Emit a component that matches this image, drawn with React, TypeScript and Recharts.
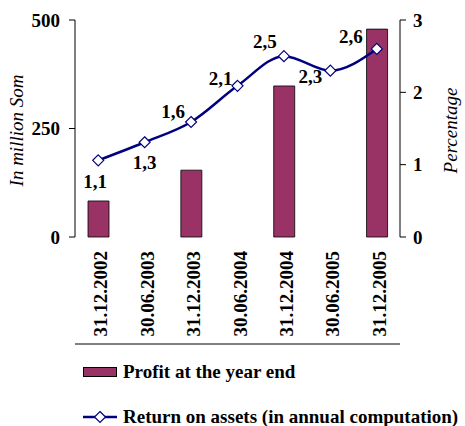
import React from 'react';
import { ComposedChart, Bar, Line, XAxis, YAxis, Legend, LabelList } from 'recharts';

const categories = ['31.12.2002', '30.06.2003', '31.12.2003', '30.06.2004', '31.12.2004', '30.06.2005', '31.12.2005'];
const profit: (number | null)[] = [83, null, 154, null, 348, null, 479];
const returnOnAssets = [1.06, 1.31, 1.59, 2.09, 2.5, 2.3, 2.6];
const leftTicks = [0, 250, 500];
const rightTicks = [0, 1, 2, 3];
const boundaryTicks = [0, 1, 2, 3, 4, 5, 6, 7];

const PROFIT_NAME = 'Profit at the year end';
const ROA_NAME = 'Return on assets (in annual computation)';

// label placement offsets (style only)
const LABEL_OFFSETS: [number, number][] = [
  [-3, 21], [0, 20], [-18, -10], [-17, -7.5], [-19, -14.5], [-20, 6], [-26, -12.5],
];

const data = categories.map((c, i) => ({ date: c, profit: profit[i], roa: returnOnAssets[i] }));

const FONT = '"Liberation Serif", "Times New Roman", serif';
const FS = 19;
const BAR_COLOR = '#993366';
const LINE_COLOR = '#000080';

const Diamond = (props: any) => {
  const { cx, cy, index } = props;
  if (cx == null || cy == null) return <g key={`d${index}`} />;
  const r = 5.5;
  return (
    <path
      key={`d${index}`}
      d={`M${cx},${cy - r} L${cx + r},${cy} L${cx},${cy + r} L${cx - r},${cy} Z`}
      fill="#fff"
      stroke={LINE_COLOR}
      strokeWidth={1.2}
    />
  );
};

const XTick = (props: any) => {
  const { x, y, payload } = props;
  const tx = x + 9;
  const ty = y + 14;
  return (
    <text
      x={tx}
      y={ty}
      transform={`rotate(-90, ${tx}, ${ty})`}
      textAnchor="end"
      fontFamily={FONT}
      fontWeight="bold"
      fontSize={FS}
      fill="#000"
    >
      {payload.value}
    </text>
  );
};

const RoaLabel = (props: any) => {
  const { x, y, value, index } = props;
  const off = LABEL_OFFSETS[index] || [0, -12];
  return (
    <text
      x={x + off[0]}
      y={y + off[1]}
      textAnchor="middle"
      dominantBaseline="central"
      fontFamily={FONT}
      fontWeight="bold"
      fontSize={FS}
      fill="#000"
    >
      {Number(value).toFixed(1).replace('.', ',')}
    </text>
  );
};

const AxisTitle = (side: 'left' | 'right', text: string) => (props: any) => {
  const vb = props.viewBox || {};
  const cx = side === 'left' ? vb.x + 16 : vb.x + vb.width - 15;
  const cy = vb.y + vb.height / 2 + 2;
  return (
    <text
      x={cx}
      y={cy}
      transform={`rotate(-90, ${cx}, ${cy})`}
      textAnchor="middle"
      dominantBaseline="central"
      fontFamily={FONT}
      fontStyle="italic"
      fontSize={FS}
      fill="#000"
    >
      {text}
    </text>
  );
};

const LegendContent = (props: any) => {
  const payload = props.payload || [];
  const barItem = payload.find((p: any) => p.dataKey === 'profit');
  const lineItem = payload.find((p: any) => p.dataKey === 'roa');
  const textStyle: React.CSSProperties = {
    fontFamily: FONT, fontWeight: 'bold', fontSize: FS, color: '#000', whiteSpace: 'nowrap', marginLeft: 6, lineHeight: '22px',
  };
  return (
    <div style={{ position: 'relative', height: 81, width: 465 }}>
      {barItem && (
        <div style={{ position: 'absolute', left: 83, top: 16, display: 'flex', alignItems: 'center', height: 22 }}>
          <svg width={34} height={10} style={{ display: 'block' }}>
            <rect x={0.5} y={0.5} width={33} height={9} fill={BAR_COLOR} stroke="#000" strokeWidth={1} />
          </svg>
          <span style={textStyle}>{barItem.value}</span>
        </div>
      )}
      {lineItem && (
        <div style={{ position: 'absolute', left: 83, top: 61, display: 'flex', alignItems: 'center', height: 22 }}>
          <svg width={34} height={14} style={{ display: 'block' }}>
            <line x1={0} y1={7} x2={34} y2={7} stroke={LINE_COLOR} strokeWidth={2.5} />
            <path d="M17,1.5 L22.5,7 L17,12.5 L11.5,7 Z" fill="#fff" stroke={LINE_COLOR} strokeWidth={1.2} />
          </svg>
          <span style={textStyle}>{lineItem.value}</span>
        </div>
      )}
    </div>
  );
};

export default function App() {
  return (
    <div style={{ position: 'absolute', left: 0, top: 0, width: 465, height: 426, background: '#fff' }}>
      <ComposedChart
        width={465}
        height={426}
        data={data}
        margin={{ top: 20, right: 0, left: 0, bottom: 0 }}
      >
        <XAxis
          xAxisId="grid"
          type="number"
          domain={[0, 7]}
          ticks={boundaryTicks}
          tick={false}
          axisLine={{ stroke: '#000' }}
          tickLine={{ stroke: '#000' }}
          tickSize={6}
          height={1}
          allowDataOverflow
        />
        <XAxis
          xAxisId="gridUp"
          type="number"
          domain={[0, 7]}
          ticks={boundaryTicks}
          tick={false}
          axisLine={false}
          tickLine={{ stroke: '#000' }}
          tickSize={5}
          height={1}
          mirror
          allowDataOverflow
        />
        <XAxis
          xAxisId="cat"
          dataKey="date"
          type="category"
          interval={0}
          tick={<XTick />}
          tickLine={false}
          tickSize={0}
          tickMargin={0}
          axisLine={false}
          height={107}
        />
        <YAxis
          yAxisId="left"
          orientation="left"
          domain={[0, 500]}
          ticks={leftTicks}
          width={75}
          tickSize={6}
          tickMargin={9}
          axisLine={{ stroke: '#000' }}
          tickLine={{ stroke: '#000' }}
          tick={{ fontFamily: FONT, fontWeight: 'bold', fontSize: FS, fill: '#000' }}
          label={{ content: AxisTitle('left', 'In million Som') }}
        />
        <YAxis
          yAxisId="leftIn"
          orientation="left"
          domain={[0, 500]}
          ticks={leftTicks}
          width={1}
          mirror
          tick={false}
          tickSize={5}
          axisLine={false}
          tickLine={{ stroke: '#000' }}
        />
        <YAxis
          yAxisId="right"
          orientation="right"
          domain={[0, 3]}
          ticks={rightTicks}
          width={65}
          tickSize={6}
          tickMargin={7}
          axisLine={{ stroke: '#000' }}
          tickLine={{ stroke: '#000' }}
          tick={{ fontFamily: FONT, fontWeight: 'bold', fontSize: FS, fill: '#000', textAnchor: 'start' }}
          label={{ content: AxisTitle('right', 'Percentage') }}
        />
        <YAxis
          yAxisId="rightIn"
          orientation="right"
          domain={[0, 3]}
          ticks={rightTicks}
          width={1}
          mirror
          tick={false}
          tickSize={5}
          axisLine={false}
          tickLine={{ stroke: '#000' }}
        />
        <Legend
          verticalAlign="bottom"
          align="left"
          content={<LegendContent />}
          wrapperStyle={{ left: 0, width: 465, height: 81 }}
        />
        <Bar
          xAxisId="cat"
          yAxisId="left"
          dataKey="profit"
          name={PROFIT_NAME}
          fill={BAR_COLOR}
          stroke="#000"
          strokeWidth={0.8}
          barSize={21}
          isAnimationActive={false}
        />
        <Line
          xAxisId="cat"
          yAxisId="right"
          dataKey="roa"
          name={ROA_NAME}
          type="monotone"
          stroke={LINE_COLOR}
          strokeWidth={2.5}
          dot={<Diamond />}
          activeDot={false}
          isAnimationActive={false}
        >
          <LabelList dataKey="roa" content={<RoaLabel />} />
        </Line>
      </ComposedChart>
    </div>
  );
}
